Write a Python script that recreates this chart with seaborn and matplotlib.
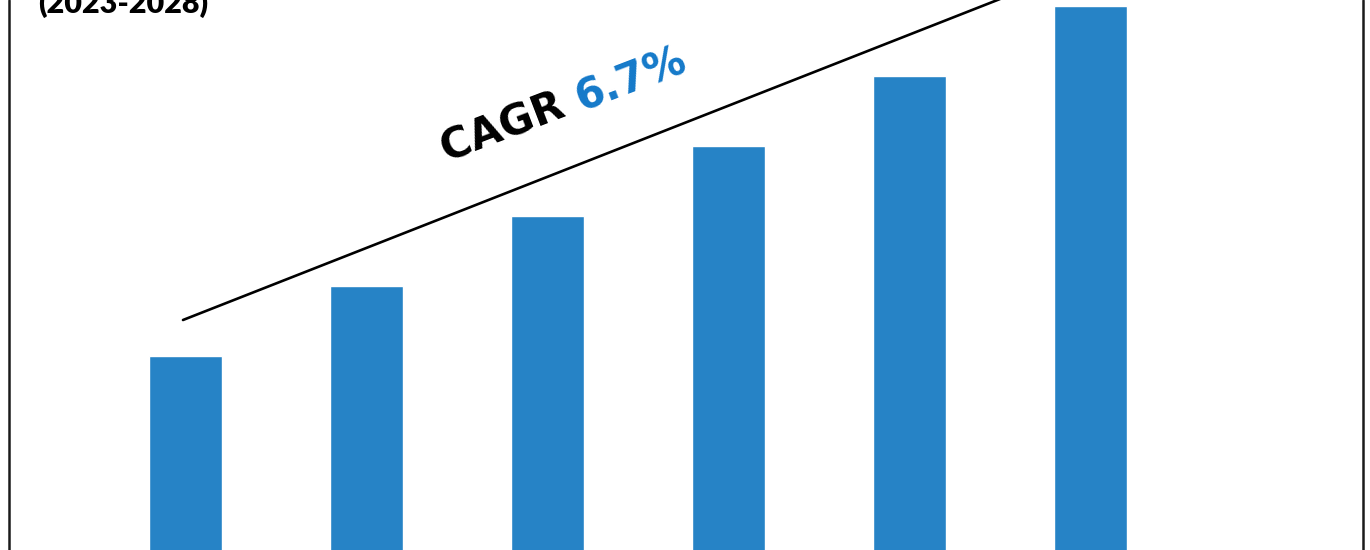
import numpy as np
import matplotlib
matplotlib.use('Agg')
import matplotlib.pyplot as plt
from matplotlib.lines import Line2D
import seaborn as sns

# 데이터
years = ['2023', '2024', '2025', '2026', '2027', '2028']
values = [3.0, 3.7, 4.4, 5.1, 5.8, 6.5]
title_text = '(2023-2028)'
cagr_label = 'CAGR '
cagr_value = '6.7%'

bar_color = '#2683C6'
text_blue = '#1479C9'

sns.set_style('white')
plt.rcParams['font.family'] = ['DejaVu Sans']

fig = plt.figure(figsize=(13.7, 5.5), dpi=100)
ax = fig.add_axes([0, 0, 1, 1])

sns.barplot(x=years, y=values, color=bar_color, saturation=1, width=0.4, ax=ax)
ax.set_xlim(-1.025, 6.544)
ax.set_ylim(1.06, 6.56)
ax.axis('off')

# 추세선
ax.plot([-0.014, 4.5], [3.36, 6.57], color='black', lw=1.9, solid_capstyle='round')

# CAGR 텍스트 (두 가지 색)
angle = 21
fs = 30
x0, y0 = 1.445, 4.93
ax.text(x0, y0, cagr_label, fontsize=fs, fontweight='bold', color='black',
        rotation=angle, rotation_mode='anchor', ha='left', va='baseline')
renderer = fig.canvas.get_renderer()
probe = ax.text(0, 0, cagr_label, fontsize=fs, fontweight='bold')
w = probe.get_window_extent(renderer).width
probe.remove()
px, py = ax.transData.transform((x0, y0))
px += w * np.cos(np.radians(angle))
py += w * np.sin(np.radians(angle))
x1, y1 = ax.transData.inverted().transform((px, py))
ax.text(x1, y1, cagr_value, fontsize=fs, fontweight='bold', color=text_blue,
        rotation=angle, rotation_mode='anchor', ha='left', va='baseline')

# 제목 (잘린 부분)
fig.text(38 / 1370, 1 - 13 / 550, title_text, fontsize=22, fontweight='heavy',
         family=['Lato', 'DejaVu Sans'], color='black', ha='left', va='baseline')

# 테두리
for xp in [8.5, 1362.5]:
    fig.add_artist(Line2D([xp / 1370] * 2, [0, 1], transform=fig.transFigure,
                          color='#1a1a1a', lw=1.8))

plt.savefig('out.png', dpi=100)
